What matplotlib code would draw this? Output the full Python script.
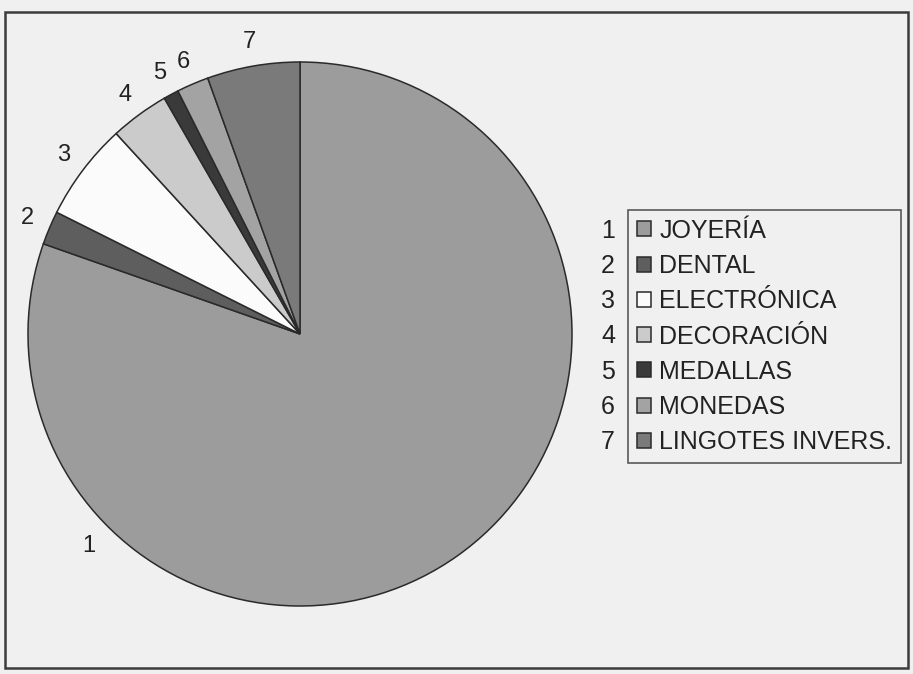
import matplotlib
matplotlib.use("Agg")
import matplotlib.pyplot as plt
from matplotlib.patches import Rectangle
import numpy as np

plt.rcParams['font.family'] = ['Liberation Sans', 'DejaVu Sans']

numbers = ["1", "2", "3", "4", "5", "6", "7"]
categories = ["JOYERÍA", "DENTAL", "ELECTRÓNICA", "DECORACIÓN", "MEDALLAS", "MONEDAS", "LINGOTES INVERS."]
values = [80.3, 2.0, 5.8, 3.5, 0.9, 1.9, 5.5]
colors = ["#9c9c9c", "#5e5e5e", "#fbfbfb", "#cbcbcb", "#3a3a3a", "#a3a3a3", "#7a7a7a"]

W, H = 913, 674
FS = 17
LFS = 18
fig = plt.figure(figsize=(W / 100, H / 100), dpi=100, facecolor="#f0f0f0")

# outer frame
fig.patches.append(Rectangle((5 / W, 1 - 668 / H), 903 / W, 656 / H, transform=fig.transFigure,
                             fill=False, edgecolor="#3c3c3c", linewidth=1.8))

cx, cy, R = 300, 334, 272
half = 300
ax = fig.add_axes([(cx - half) / W, (H - cy - half) / H, 2 * half / W, 2 * half / H])

wedges, texts = ax.pie(values, colors=colors, startangle=90, counterclock=False,
                       labels=numbers, labeldistance=1.09,
                       wedgeprops=dict(edgecolor="#2a2a2a", linewidth=1.1),
                       textprops=dict(fontsize=FS, color="#222222"))
ax.set_xlim(-half / R, half / R)
ax.set_ylim(-half / R, half / R)
ax.set_aspect("equal")
ax.axis("off")
for t in texts:
    t.set_ha("center")
    t.set_va("center")
    t.set_clip_on(False)
# label 1 sits at lower left in the original
ang = np.deg2rad(225)
texts[0].set_position((1.1 * np.cos(ang), 1.1 * np.sin(ang)))

leg = fig.legend(wedges, categories, loc="upper left",
                 bbox_to_anchor=(628 / W, 1 - 210 / H), bbox_transform=fig.transFigure,
                 borderaxespad=0, fontsize=LFS, frameon=True, fancybox=False,
                 handlelength=0.55, handleheight=0.55, handletextpad=0.35,
                 labelspacing=0.45, borderpad=0.35, edgecolor="#333333", facecolor="none")
leg.get_frame().set_linewidth(1.2)
for t in leg.get_texts():
    t.set_color("#222222")

fig.canvas.draw()
inv = fig.transFigure.inverted()
for num, t in zip(numbers, leg.get_texts()):
    bb = t.get_window_extent()
    ymid = (bb.y0 + bb.y1) / 2
    x, y = inv.transform((615, ymid))
    fig.text(x, y, num, ha="right", va="center", fontsize=LFS, color="#222222")

fig.savefig("out.png", dpi=100, facecolor=fig.get_facecolor())
